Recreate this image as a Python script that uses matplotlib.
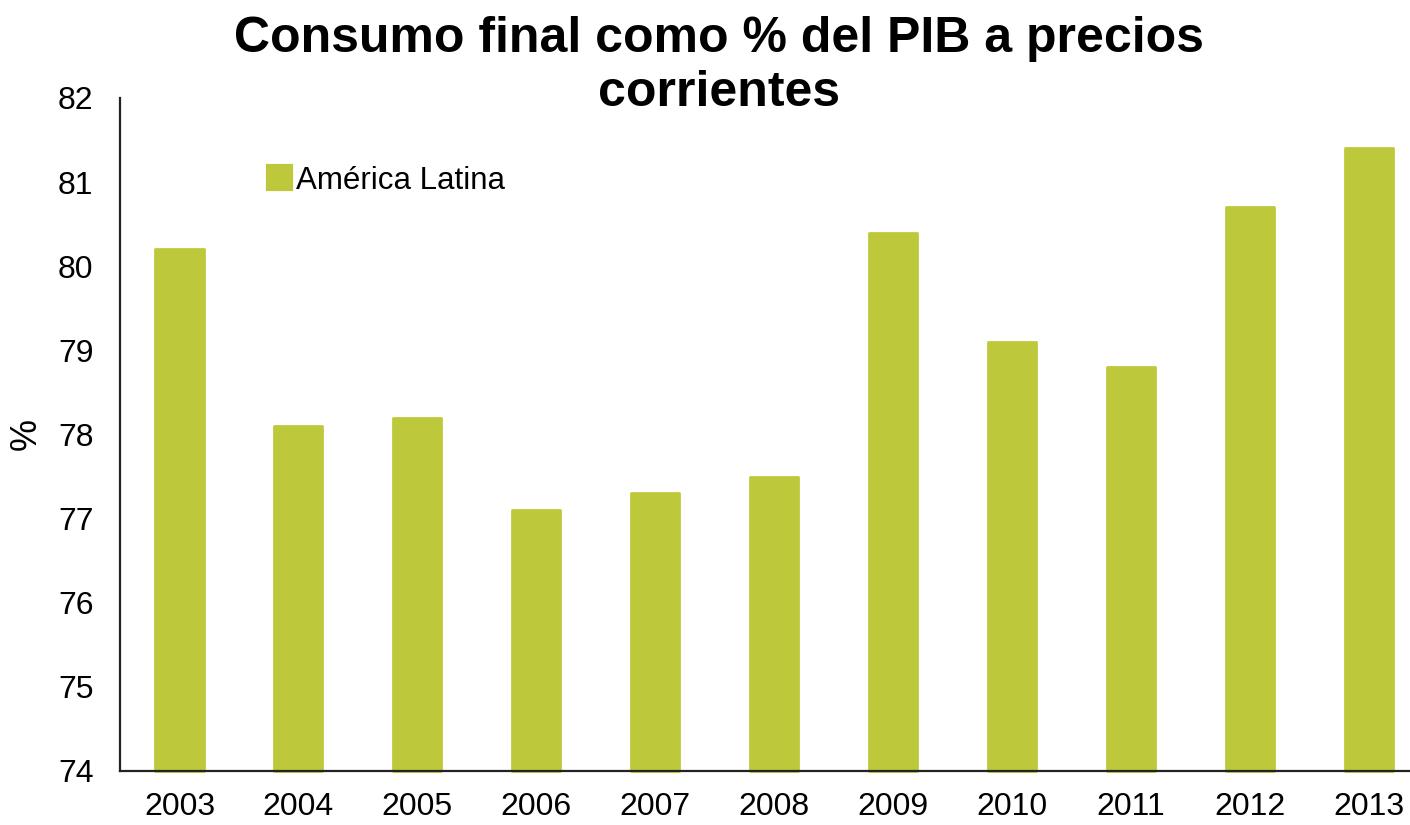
import numpy as np
from matplotlib import pyplot as plt
from matplotlib.patches import Patch

plt.rcParams['font.family'] = ['Liberation Sans', 'DejaVu Sans']

years = ['2003', '2004', '2005', '2006', '2007', '2008', '2009', '2010', '2011', '2012', '2013']
consumo = [80.2, 78.1, 78.2, 77.1, 77.3, 77.5, 80.4, 79.1, 78.8, 80.7, 81.4]
series_name = 'América Latina'
title = 'Consumo final como % del PIB a precios\ncorrientes'

green = '#BDC93A'

fig = plt.figure(figsize=(14.1, 8.25), dpi=100)
ax = fig.add_axes([0.0851, 0.0655, 0.9277, 0.8158])

x = np.arange(len(years))
base = 74
bars = ax.bar(x, np.array(consumo) - base, bottom=base, width=0.405,
              color=green, edgecolor=green, linewidth=2, joinstyle='round',
              clip_on=False, zorder=1)

ax.set_xlim(-0.5, 10.5)
ax.set_ylim(74, 82)
ax.set_yticks(range(74, 83))
ax.set_xticks(x)
ax.set_xticklabels(years)
ax.tick_params(axis='both', length=0, labelsize=23)
ax.tick_params(axis='y', pad=19)
ax.tick_params(axis='x', pad=15)

for s in ['top', 'right']:
    ax.spines[s].set_visible(False)
for s in ['left', 'bottom']:
    ax.spines[s].set_color('#222222')
    ax.spines[s].set_linewidth(1.6)
    ax.spines[s].set_zorder(3)

ax.set_ylabel('%', fontsize=26, labelpad=10)

handle = Patch(facecolor=green, edgecolor=green, linewidth=3, joinstyle='round')
ax.legend([handle], [series_name], loc='center left', bbox_to_anchor=(0.113, 0.877),
          frameon=False, fontsize=22.5, borderaxespad=0, borderpad=0,
          handlelength=0.74, handleheight=0.74, handletextpad=0.15)

fig.text(0.51, 0.981, title, ha='center', va='top', fontsize=36,
         fontweight='bold', linespacing=1.22)

plt.savefig('out.png', dpi=100)
